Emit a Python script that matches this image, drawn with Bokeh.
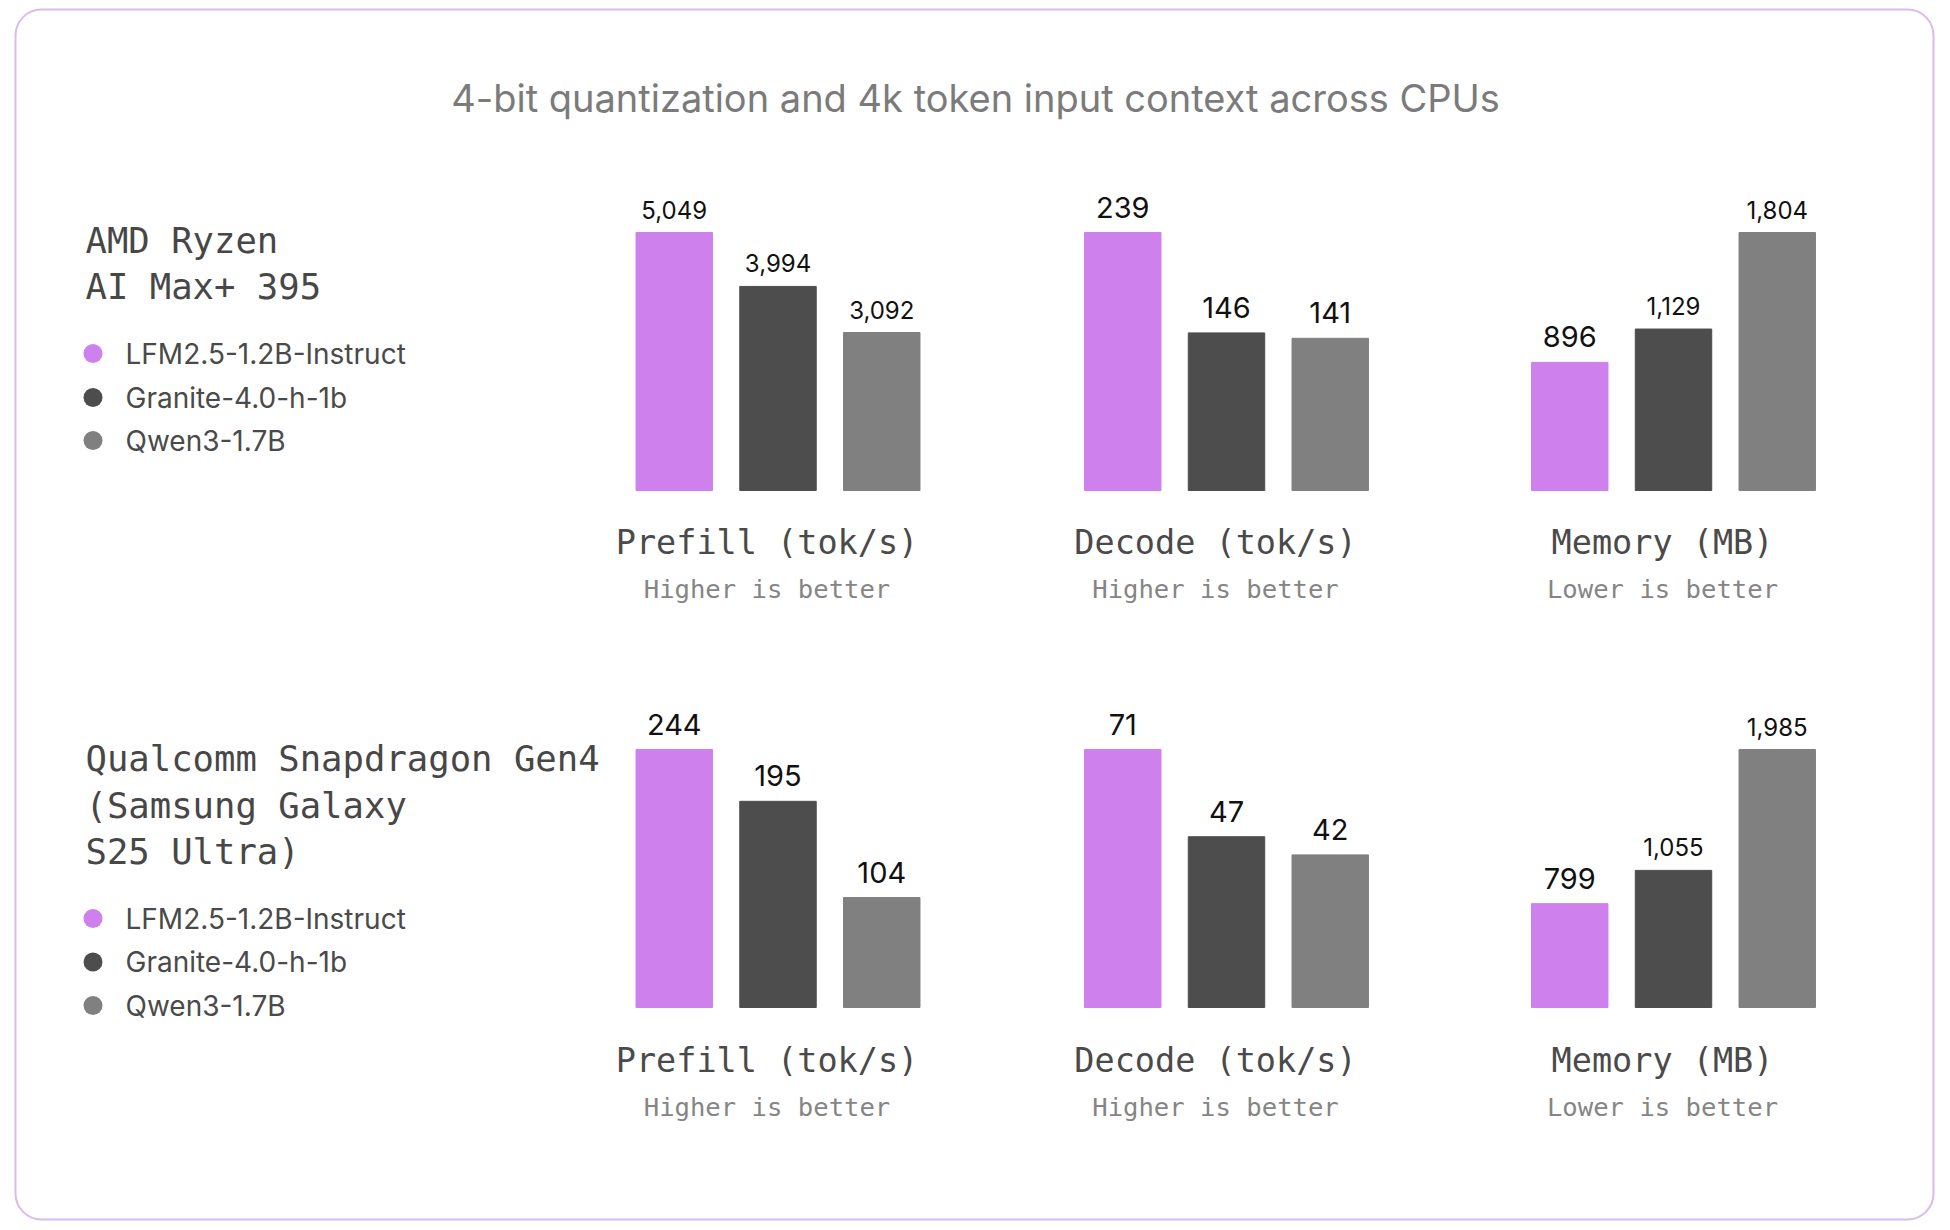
from bokeh.plotting import figure
from bokeh.models import Range1d, ColumnDataSource, BoxAnnotation
from bokeh.core.properties import value
from bokeh.embed import file_html
from bokeh.resources import INLINE

# ---------------- data ----------------
title = "4-bit quantization and 4k token input context across CPUs"
models = ["LFM2.5-1.2B-Instruct", "Granite-4.0-h-1b", "Qwen3-1.7B"]
model_colors = ["#ce80ec", "#4d4d4d", "#808080"]
metrics = ["Prefill (tok/s)", "Decode (tok/s)", "Memory (MB)"]
notes = ["Higher is better", "Higher is better", "Lower is better"]
devices = [["AMD Ryzen", "AI Max+ 395"],
           ["Qualcomm Snapdragon Gen4", "(Samsung Galaxy", "S25 Ultra)"]]

amd_prefill = [5049, 3994, 3092]
amd_decode = [239, 146, 141]
amd_memory = [896, 1129, 1804]
qc_prefill = [244, 195, 104]
qc_decode = [71, 47, 42]
qc_memory = [799, 1055, 1985]

rows = [[amd_prefill, amd_decode, amd_memory],
        [qc_prefill, qc_decode, qc_memory]]

# ---------------- layout (pixels) ----------------
W, H = 1950, 1230
col_centers = [777.5, 1226.0, 1673.0]   # centre of the middle bar
bar_step = 103.75                        # px between bar centres
bar_width = 0.737                        # in bar-step units
row_base = [490.0, 1007.0]               # bar baseline, px from top
bar_max_px = 258.0                       # tallest bar height
metric_y = [542, 1060]
note_y = [588, 1106]
dev_y = [[240, 286], [758, 805, 851]]
legend_y = [[353, 397, 440], [918, 961.5, 1005]]

p = figure(width=W, height=H, x_range=Range1d(0, W), y_range=Range1d(H, 0),
           output_backend="svg", toolbar_location=None, min_border=0,
           x_axis_location=None, y_axis_location=None)
p.grid.visible = False
p.outline_line_color = None
p.background_fill_color = "white"
p.border_fill_color = "white"

p.add_layout(BoxAnnotation(left=15, right=1933, top=9, bottom=1219,
                           fill_color=None, fill_alpha=0,
                           line_color="#dcbaee", line_alpha=1, line_width=2,
                           border_radius=26, level="underlay"))

# chart title
p.text(x=[W / 2], y=[97], text=[title], text_align="center",
       text_baseline="middle", text_font=value("Inter"),
       text_font_size="38px", text_color="#7b7b7b")

# per-column x ranges (bar index units)
for m, c in enumerate(col_centers):
    start = 1 - c / bar_step
    p.extra_x_ranges[f"x{m}"] = Range1d(start, start + W / bar_step)

for r, row in enumerate(rows):
    base = row_base[r]
    for m, vals in enumerate(row):
        u = max(vals) / bar_max_px
        ys = (base - H) * u
        yname = f"y{r}{m}"
        p.extra_y_ranges[yname] = Range1d(ys, ys + H * u)
        labels = [f"{v:,}" for v in vals]
        small = [len(s) > 3 for s in labels]
        src = ColumnDataSource(dict(
            idx=[0, 1, 2], val=vals, color=model_colors, label=labels,
            fs=["24px" if s else "29px" for s in small],
            off=[-23 if s else -25.5 for s in small]))
        p.vbar(x="idx", top="val", bottom=0, width=bar_width, color="color",
               source=src, x_range_name=f"x{m}", y_range_name=yname)
        p.text(x="idx", y="val", text="label", source=src,
               x_range_name=f"x{m}", y_range_name=yname,
               text_align="center", text_baseline="middle",
               y_offset={"field": "off"},
               text_font=value("Inter"), text_font_size={"field": "fs"},
               text_color="#111111")
        cx = col_centers[m] - 11
        p.text(x=[cx], y=[metric_y[r]], text=[metrics[m]],
               text_align="center", text_baseline="middle",
               text_font=value("DejaVu Sans Mono"), text_font_size="33.5px",
               text_color="#4a4a4a")
        p.text(x=[cx], y=[note_y[r]], text=[notes[m]],
               text_align="center", text_baseline="middle",
               text_font=value("DejaVu Sans Mono"), text_font_size="25.6px",
               text_color="#858585")

    # device name
    p.text(x=[85] * len(devices[r]), y=dev_y[r], text=devices[r],
           text_align="left", text_baseline="middle",
           text_font=value("DejaVu Sans Mono"), text_font_size="35.6px",
           text_color="#474747")
    # legend
    p.scatter(x=[92.5] * 3, y=legend_y[r], size=19, color=model_colors,
              line_color=None)
    p.text(x=[125] * 3, y=legend_y[r], text=models, text_align="left",
           text_baseline="middle", text_font=value("Inter"),
           text_font_size="28px", text_color="#4a4a4a")

open("out.html", "w").write(file_html(p, INLINE))
